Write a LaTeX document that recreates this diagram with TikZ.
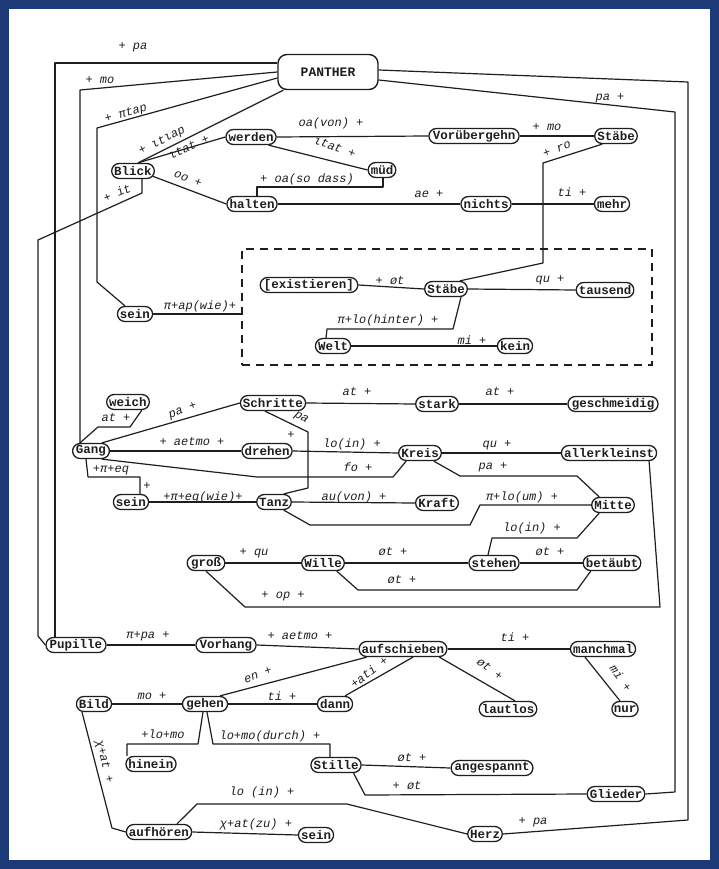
\documentclass[tikz,border=0pt]{standalone}
\usepackage{fontspec}
\setmonofont{Liberation Mono}
\usetikzlibrary{shapes.misc,calc}
\definecolor{framecol}{RGB}{28,58,120}
\definecolor{ink}{RGB}{30,30,30}
\newcommand\nfnt{\fontsize{12.5}{14}\selectfont\ttfamily\bfseries}
\newcommand\lfnt{\fontsize{12}{14}\selectfont\ttfamily\itshape}
\newcommand\lsp{\kern0.6em}
\begin{document}
\begin{tikzpicture}[x=1pt,y=-1pt,
 wd/.style={rounded rectangle, draw=ink, line width=1.3pt, inner xsep=1pt, inner ysep=1pt, minimum height=15pt, font=\nfnt, text=ink},
 lab/.style={font=\lfnt, inner sep=0.5pt, text=ink},
 ln/.style={draw=ink, line width=1.2pt, line join=round},
]
\useasboundingbox (0,0) rectangle (719,869);
\fill[framecol] (0,0) rectangle (719,869);
\fill[white] (9,9) rectangle (710,860);

% ---------- nodes ----------
\node[draw=ink, line width=1.4pt, rounded corners=9pt, minimum width=100pt, minimum height=35pt,
      font=\fontsize{13}{14}\selectfont\ttfamily\bfseries, text=ink] (P) at (328,72) {PANTHER};
\node[wd] (wer) at (251,137) {werden};
\node[wd] (bl)  at (133,171) {Blick};
\node[wd] (hal) at (252,204) {halten};
\node[wd] (mud) at (382,170) {müd};
\node[wd] (vor) at (474,136) {Vorübergehn};
\node[wd] (st1) at (616,136) {Stäbe};
\node[wd] (nic) at (486,204) {nichts};
\node[wd] (meh) at (612,204) {mehr};
\node[wd] (se1) at (135,314) {sein};
\node[wd] (ex)  at (309,285) {[existieren]};
\node[wd] (we)  at (333,346) {Welt};
\node[wd] (st2) at (446,289) {Stäbe};
\node[wd] (tau) at (605,290) {tausend};
\node[wd] (ke)  at (515,346) {kein};
\node[draw=ink, dash pattern=on 8pt off 6pt, line width=1.1pt, minimum width=410pt,
      minimum height=116pt, inner sep=0pt] (box) at (447,307) {};
\node[wd] (wei) at (128,402) {weich};
\node[wd] (ga)  at (91,451) {Gang};
\node[wd] (sch) at (273,403) {Schritte};
\node[wd] (dre) at (267,451) {drehen};
\node[wd] (se2) at (131,502) {sein};
\node[wd] (ta)  at (274,502) {Tanz};
\node[wd] (sta) at (437,404) {stark};
\node[wd] (ges) at (613,404) {geschmeidig};
\node[wd] (kr)  at (420,453) {Kreis};
\node[wd] (all) at (609,453) {allerkleinst};
\node[wd] (kra) at (437,503) {Kraft};
\node[wd] (mi)  at (613,505) {Mitte};
\node[wd] (gr)  at (206,563) {groß};
\node[wd] (wi)  at (323,563) {Wille};
\node[wd] (ste) at (494,563) {stehen};
\node[wd] (bet) at (612,563) {betäubt};
\node[wd] (pu)  at (76,645) {Pupille};
\node[wd] (vh)  at (226,645) {Vorhang};
\node[wd] (au)  at (403,649) {aufschieben};
\node[wd] (ma)  at (603,649) {manchmal};
\node[wd] (la)  at (508,709) {lautlos};
\node[wd] (nu)  at (625,709) {nur};
\node[wd] (bi)  at (94,704) {Bild};
\node[wd] (ge)  at (205,704) {gehen};
\node[wd] (da)  at (335,704) {dann};
\node[wd] (hi)  at (151,764) {hinein};
\node[wd] (sti) at (336,765) {Stille};
\node[wd] (an)  at (492,768) {angespannt};
\node[wd] (gl)  at (616,794) {Glieder};
\node[wd] (he)  at (485,834) {Herz};
\node[wd] (auf) at (159,832) {aufhören};
\node[wd] (se3) at (316,835) {sein};

% ---------- connectors ----------
\draw[ln] ([yshift=9pt]P.west) -- (55,63) -- (55,0 |- pu.north);
\draw[ln] ([xshift=9pt]bl.south) -- (142,193) -- (38,240) -- (38,636) -- (pu.west);
\draw[ln] (P.west) -- (80,90) -- (80,0 |- ga.north);
\draw[ln] ([yshift=-6pt]P.west) -- (97,128) -- (97,282) -- (se1.north west);
\draw[ln] ([xshift=6pt]P.south west) -- ([xshift=5pt]bl.north);
\draw[ln] ([xshift=5pt]bl.north) -- (wer.west);
\draw[ln] (wer.east) -- (vor.west);
\draw[ln] (wer.south east) -- (mud.west);
\draw[ln] (vor.east) -- (st1.west);
\draw[ln] (st1.south west) -- (543,163) -- (543,263) -- (st2.north east);
\draw[ln] (bl.-15) -- (hal.west);
\draw[ln] ([xshift=5pt]hal.north) -- (257,187) -- (383,187) -- (383,0 |- mud.south);
\draw[ln] (hal.east) -- (nic.west);
\draw[ln] (nic.east) -- (meh.west);
\draw[ln] ([yshift=-8pt]P.east) -- (675,112) -- (675,792) -- (gl.east);
\draw[ln] ([yshift=2pt]P.east) -- (688,82) -- (688,820) -- (he.east);
% box
\draw[ln] (se1.east) -- (se1.east -| box.west);
\draw[ln] (ex.east) -- (st2.west);
\draw[ln] (st2.east) -- (tau.west);
\draw[ln] ([xshift=-7pt]we.north) -- (327,329) -- (453,329) -- ([xshift=15pt]st2.south);
\draw[ln] (we.east) -- (ke.west);
% Gang block
\draw[ln] (80,0 |- ga.north) -- (98,427) -- (130,427) -- (wei.south east);
\draw[ln] (ga.north east) -- (sch.west);
\draw[ln] (ga.east) -- (dre.west);
\draw[ln] (ga.south east) -- (257,477) -- (393,477) -- (kr.south west);
\draw[ln] ([xshift=-5pt]ga.south) -- (88,477) -- (140,477) -- (140,0 |- se2.north);
\draw[ln] (se2.east) -- (ta.west);
\draw[ln] ([xshift=-8pt]sch.south) -- (308,432) -- (308,488) -- (ta.north east);
\draw[ln] (sch.east) -- (sta.west);
\draw[ln] (sta.east) -- (ges.west);
\draw[ln] (dre.east) -- (kr.west);
\draw[ln] (kr.east) -- (all.west);
\draw[ln] (kr.south east) -- (460,476) -- (577,476) -- (mi.north west);
\draw[ln] (ta.east) -- (kra.west);
\draw[ln] (ta.south east) -- (310,525) -- (470,525) -- (480,505) -- (mi.west);
\draw[ln] ([xshift=-6pt]ste.north) -- (492,538) -- (577,538) -- (mi.south west);
\draw[ln] (gr.east) -- (wi.west);
\draw[ln] (wi.east) -- (ste.west);
\draw[ln] (wi.south east) -- (358,590) -- (577,590) -- (bet.south west);
\draw[ln] (ste.east) -- (bet.west);
\draw[ln] (gr.south) -- (245,607) -- (660,607) -- (all.south east);
% lower block
\draw[ln] (pu.east) -- (vh.west);
\draw[ln] (vh.east) -- (au.west);
\draw[ln] (au.east) -- (ma.west);
\draw[ln] (au.south east) -- ([xshift=7pt]la.north);
\draw[ln] ([xshift=-18pt]ma.south) -- ([xshift=-5pt]nu.north);
\draw[ln] (ge.north east) -- (au.south west);
\draw[ln] (bi.east) -- (ge.west);
\draw[ln] (ge.east) -- (da.west);
\draw[ln] (da.north east) -- ([xshift=10pt]au.south);
\draw[ln] ([xshift=-2pt]ge.south) -- (198,744) -- (127,744) -- (127,0 |- hi.north);
\draw[ln] ([xshift=2pt]ge.south) -- (213,744) -- (330,744) -- (330,0 |- sti.north);
\draw[ln] (sti.east) -- (an.west);
\draw[ln] (sti.south east) -- (365,795) -- (gl.west);
\draw[ln] ([xshift=-12pt]bi.south) -- (112,828) -- (auf.west);
\draw[ln] (auf.east) -- (se3.west);
\draw[ln] ([xshift=18pt]auf.north) -- (197,804) -- (347,804) -- (he.west);

% ---------- labels ----------
\node[lab] (l1) at (133,47) {+ pa};
\node[lab] (l2) at (100,80) {+ mo};
\node[lab, rotate=16] (l3) at (126,114) {+\lsp πtap};
\node[lab, rotate=27] (l4) at (162,141) {+\lsp ιtιap};
\node[lab, rotate=25] (l5) at (189,147) {ιtat\lsp +};
\node[lab] (l6) at (331,123) {oa(von) +};
\node[lab, rotate=-20] (l7) at (335,147) {ιtat\lsp +};
\node[lab] (l8) at (547,127) {+ mo};
\node[lab, rotate=20] (l9) at (557,149) {+\lsp ro};
\node[lab] (l10) at (610,98) {pa +};
\node[lab, rotate=-22] (l11) at (188,179) {oo\lsp +};
\node[lab] (l12) at (307,179) {+ oa(so dass)};
\node[lab] (l13) at (429,194) {ae +};
\node[lab] (l14) at (572,192) {ti +};
\node[lab, rotate=24] (l15) at (117,193) {+\lsp it};
\node[lab] (l16) at (200,306) {π+ap(wie)+};
\node[lab] (l17) at (390,281) {+ øt};
\node[lab] (l18) at (388,320) {π+lo(hinter) +};
\node[lab] (l19) at (550,280) {qu +};
\node[lab] (l20) at (472,340) {mi +};
\node[lab] (l21) at (116,418) {at +};
\node[lab, rotate=20] (l22) at (183,411) {pa\lsp +};
\node[lab] (l23) at (192,442) {+ aetmo +};
\node[lab] (l24) at (111,470) {+π+eq};
\node[lab] (l25) at (147,486) {+};
\node[lab] (l26) at (203,497) {+π+eq(wie)+};
\node[lab, rotate=-30] (l27) at (301,418) {pa};
\node[lab] (l28) at (291,435) {+};
\node[lab] (l29) at (357,392) {at +};
\node[lab] (l30) at (500,392) {at +};
\node[lab] (l31) at (352,444) {lo(in) +};
\node[lab] (l32) at (358,467) {fo +};
\node[lab] (l33) at (497,445) {qu +};
\node[lab] (l34) at (493,467) {pa +};
\node[lab] (l35) at (354,497) {au(von) +};
\node[lab] (l36) at (522,497) {π+lo(um) +};
\node[lab] (l37) at (532,528) {lo(in) +};
\node[lab] (l38) at (254,553) {+ qu};
\node[lab] (l39) at (393,552) {øt +};
\node[lab] (l40) at (550,552) {øt +};
\node[lab] (l41) at (402,580) {øt +};
\node[lab] (l42) at (283,596) {+ op +};
\node[lab] (l43) at (148,636) {π+pa +};
\node[lab] (l44) at (300,636) {+ aetmo +};
\node[lab] (l45) at (515,637) {ti +};
\node[lab, rotate=-37] (l46) at (490,669) {øt\lsp +};
\node[lab, rotate=-55] (l47) at (621,678) {mi\lsp +};
\node[lab, rotate=20] (l48) at (258,675) {en\lsp +};
\node[lab, rotate=37] (l49) at (369,672) {+ati\lsp +};
\node[lab] (l50) at (152,696) {mo +};
\node[lab] (l51) at (282,696) {ti +};
\node[lab] (l52) at (163,734) {+lo+mo};
\node[lab] (l53) at (270,736) {lo+mo(durch) +};
\node[lab] (l54) at (412,758) {øt +};
\node[lab] (l55) at (407,786) {+ øt};
\node[lab] (l56) at (262,792) {lo (in) +};
\node[lab] (l57) at (256,824) {χ+at(zu) +};
\node[lab, rotate=-76] (l58) at (104,762) {χ+at\lsp +};
\node[lab] (l59) at (533,822) {+ pa};
\end{tikzpicture}
\end{document}
